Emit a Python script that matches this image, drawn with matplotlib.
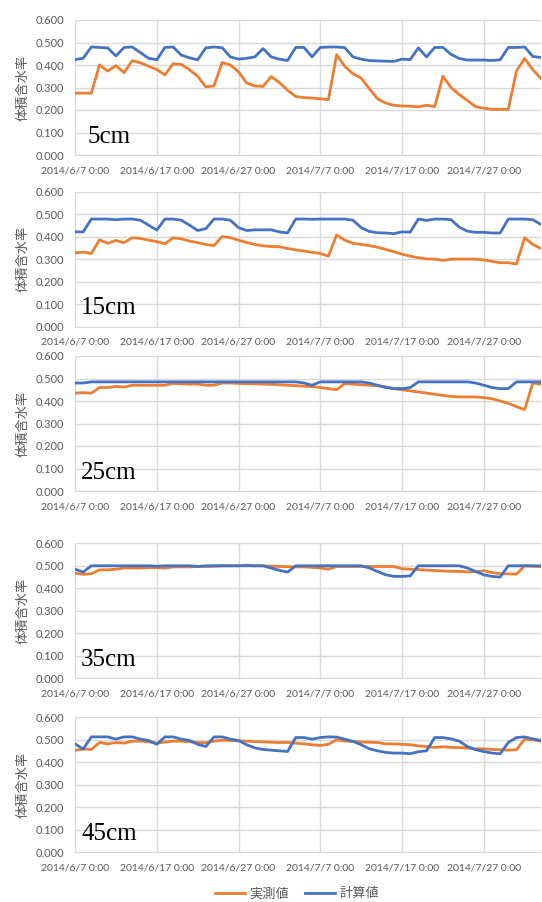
import pandas as pd
import matplotlib
matplotlib.use("Agg")
import matplotlib.pyplot as plt

plt.rcParams['font.family'] = ['Lato', 'Noto Sans CJK JP', 'DejaVu Sans']

# daily values, 2014/6/7 .. 2014/8/3
dates = pd.date_range("2014-06-07", periods=58, freq="D")

obs_5 = [0.275, 0.275, 0.275, 0.400, 0.373, 0.397, 0.366, 0.419, 0.410, 0.395,
         0.380, 0.356, 0.405, 0.403, 0.379, 0.350, 0.303, 0.307, 0.411, 0.400,
         0.370, 0.320, 0.307, 0.305, 0.349, 0.322, 0.288, 0.260, 0.255, 0.253,
         0.250, 0.246, 0.446, 0.394, 0.361, 0.342, 0.295, 0.250, 0.231, 0.221,
         0.218, 0.217, 0.214, 0.221, 0.215, 0.350, 0.300, 0.269, 0.242, 0.215,
         0.208, 0.203, 0.203, 0.203, 0.373, 0.429, 0.379, 0.340]
calc_5 = [0.424, 0.430, 0.480, 0.478, 0.476, 0.440, 0.478, 0.480, 0.455, 0.430,
          0.423, 0.478, 0.480, 0.444, 0.432, 0.423, 0.476, 0.480, 0.477, 0.436,
          0.426, 0.430, 0.436, 0.473, 0.436, 0.426, 0.420, 0.478, 0.478, 0.436,
          0.478, 0.480, 0.480, 0.477, 0.436, 0.426, 0.420, 0.418, 0.417, 0.416,
          0.426, 0.424, 0.476, 0.436, 0.478, 0.478, 0.447, 0.429, 0.422, 0.422,
          0.422, 0.420, 0.423, 0.478, 0.478, 0.480, 0.438, 0.433]

obs_15 = [0.328, 0.331, 0.325, 0.386, 0.370, 0.383, 0.373, 0.395, 0.392, 0.384,
          0.378, 0.368, 0.395, 0.390, 0.380, 0.373, 0.365, 0.360, 0.400, 0.395,
          0.384, 0.374, 0.365, 0.359, 0.356, 0.355, 0.347, 0.341, 0.336, 0.330,
          0.325, 0.313, 0.407, 0.384, 0.370, 0.365, 0.360, 0.353, 0.343, 0.333,
          0.322, 0.313, 0.306, 0.301, 0.300, 0.294, 0.300, 0.300, 0.300, 0.300,
          0.296, 0.290, 0.284, 0.284, 0.278, 0.395, 0.365, 0.347]
calc_15 = [0.421, 0.421, 0.478, 0.478, 0.478, 0.475, 0.478, 0.478, 0.473, 0.451,
           0.429, 0.478, 0.478, 0.473, 0.451, 0.427, 0.435, 0.478, 0.478, 0.473,
           0.440, 0.427, 0.430, 0.430, 0.430, 0.421, 0.416, 0.478, 0.478, 0.477,
           0.478, 0.478, 0.478, 0.478, 0.473, 0.440, 0.423, 0.417, 0.416, 0.413,
           0.421, 0.420, 0.478, 0.472, 0.478, 0.478, 0.475, 0.442, 0.424, 0.419,
           0.419, 0.416, 0.416, 0.478, 0.478, 0.478, 0.475, 0.454]

obs_25 = [0.435, 0.437, 0.435, 0.460, 0.460, 0.465, 0.462, 0.470, 0.470, 0.470,
          0.470, 0.470, 0.478, 0.476, 0.475, 0.475, 0.470, 0.470, 0.480, 0.480,
          0.478, 0.477, 0.476, 0.475, 0.474, 0.472, 0.470, 0.468, 0.466, 0.464,
          0.460, 0.455, 0.450, 0.478, 0.475, 0.472, 0.470, 0.468, 0.463, 0.455,
          0.450, 0.445, 0.440, 0.435, 0.430, 0.425, 0.420, 0.418, 0.418, 0.418,
          0.415, 0.410, 0.400, 0.390, 0.375, 0.362, 0.480, 0.475]
calc_25 = [0.480, 0.480, 0.485, 0.485, 0.485, 0.485, 0.485, 0.485, 0.485, 0.485,
           0.485, 0.485, 0.485, 0.485, 0.485, 0.485, 0.485, 0.485, 0.485, 0.485,
           0.485, 0.485, 0.485, 0.485, 0.485, 0.485, 0.485, 0.485, 0.480, 0.470,
           0.485, 0.485, 0.485, 0.485, 0.485, 0.485, 0.480, 0.470, 0.460, 0.455,
           0.455, 0.460, 0.485, 0.485, 0.485, 0.485, 0.485, 0.485, 0.485, 0.480,
           0.470, 0.460, 0.455, 0.455, 0.485, 0.485, 0.485, 0.485]

obs_35 = [0.467, 0.462, 0.465, 0.482, 0.482, 0.485, 0.490, 0.490, 0.490, 0.492,
          0.492, 0.490, 0.495, 0.495, 0.495, 0.497, 0.497, 0.498, 0.500, 0.500,
          0.500, 0.503, 0.500, 0.500, 0.498, 0.497, 0.496, 0.495, 0.495, 0.493,
          0.490, 0.485, 0.497, 0.497, 0.497, 0.497, 0.497, 0.497, 0.497, 0.497,
          0.487, 0.485, 0.483, 0.481, 0.479, 0.477, 0.476, 0.475, 0.473, 0.474,
          0.478, 0.470, 0.465, 0.464, 0.463, 0.500, 0.498, 0.496]
calc_35 = [0.485, 0.472, 0.500, 0.500, 0.500, 0.500, 0.500, 0.500, 0.500, 0.500,
           0.498, 0.500, 0.500, 0.500, 0.500, 0.497, 0.500, 0.500, 0.500, 0.500,
           0.500, 0.500, 0.500, 0.500, 0.490, 0.480, 0.472, 0.500, 0.500, 0.500,
           0.500, 0.500, 0.500, 0.500, 0.500, 0.500, 0.490, 0.475, 0.460, 0.453,
           0.453, 0.455, 0.500, 0.500, 0.500, 0.500, 0.500, 0.500, 0.490, 0.475,
           0.460, 0.453, 0.450, 0.500, 0.500, 0.500, 0.500, 0.500]

obs_45 = [0.453, 0.459, 0.457, 0.488, 0.482, 0.488, 0.485, 0.494, 0.494, 0.491,
          0.485, 0.490, 0.494, 0.494, 0.491, 0.488, 0.487, 0.494, 0.498, 0.497,
          0.495, 0.494, 0.492, 0.491, 0.489, 0.488, 0.488, 0.485, 0.482, 0.478,
          0.475, 0.480, 0.500, 0.494, 0.493, 0.490, 0.489, 0.488, 0.482, 0.482,
          0.480, 0.478, 0.473, 0.470, 0.466, 0.469, 0.466, 0.466, 0.463, 0.460,
          0.460, 0.457, 0.456, 0.454, 0.456, 0.503, 0.500, 0.494]
calc_45 = [0.482, 0.459, 0.513, 0.513, 0.513, 0.503, 0.513, 0.513, 0.503, 0.497,
           0.480, 0.513, 0.513, 0.503, 0.497, 0.480, 0.470, 0.513, 0.513, 0.503,
           0.497, 0.478, 0.464, 0.457, 0.454, 0.451, 0.448, 0.510, 0.510, 0.503,
           0.510, 0.513, 0.512, 0.503, 0.493, 0.478, 0.460, 0.451, 0.444, 0.441,
           0.441, 0.438, 0.447, 0.451, 0.510, 0.510, 0.504, 0.494, 0.470, 0.456,
           0.448, 0.441, 0.438, 0.488, 0.510, 0.513, 0.504, 0.497]

depths = ["5cm", "15cm", "25cm", "35cm", "45cm"]
observed = [obs_5, obs_15, obs_25, obs_35, obs_45]
calculated = [calc_5, calc_15, calc_25, calc_35, calc_45]

tick_dates = pd.to_datetime(["2014-06-07", "2014-06-17", "2014-06-27",
                             "2014-07-07", "2014-07-17", "2014-07-27"])
tick_labels = ["2014/6/7 0:00", "2014/6/17 0:00", "2014/6/27 0:00",
               "2014/7/7 0:00", "2014/7/17 0:00", "2014/7/27 0:00"]
y_ticks = [0.0, 0.1, 0.2, 0.3, 0.4, 0.5, 0.6]

orange = "#ED7D31"
blue = "#4472C4"
grey = "#595959"
grid = "#D9D9D9"

W, H = 542, 902
fig = plt.figure(figsize=(W / 100, H / 100), dpi=100)

# panel top / bottom in pixels
tops = [20, 191.6, 356, 543.3, 717.3]
left, right = 75, 541
panel_h = 135

for i in range(5):
    ax = fig.add_axes([left / W, 1 - (tops[i] + panel_h) / H,
                       (right - left) / W, panel_h / H])
    ax.plot(dates, observed[i], color=orange, lw=2, label="実測値", zorder=3)
    ax.plot(dates, calculated[i], color=blue, lw=2, label="計算値", zorder=3)

    ax.set_ylim(0, 0.6)
    ax.set_xlim(dates[0], dates[-1])
    ax.set_yticks(y_ticks)
    ax.set_yticklabels([f"{v:.3f}" for v in y_ticks])
    ax.set_xticks(tick_dates)
    ax.set_xticklabels(tick_labels)
    ax.tick_params(length=0, colors=grey, pad=8)
    ax.tick_params(axis="x", labelsize=7.5)
    ax.tick_params(axis="y", labelsize=8)
    ax.grid(True, color=grid, lw=1)
    ax.set_axisbelow(True)
    for s in ["top", "right"]:
        ax.spines[s].set_visible(False)
    for s in ["left", "bottom"]:
        ax.spines[s].set_color(grid)

    ax.set_ylabel("体積含水率", fontsize=9.5, color=grey, labelpad=5)
    ax.text(0.073, 0.09, depths[i], transform=ax.transAxes, ha="center",
            va="baseline", fontsize=18, family="Liberation Serif", color="black")

handles, labels = ax.get_legend_handles_labels()
fig.legend(handles, labels, loc="center", bbox_to_anchor=(0.548, 1 - 893 / H),
           ncol=2, frameon=False, fontsize=9.5, handlelength=2.3,
           columnspacing=1.2, handletextpad=0.3, labelcolor=grey)

fig.savefig("out.png", dpi=100)
